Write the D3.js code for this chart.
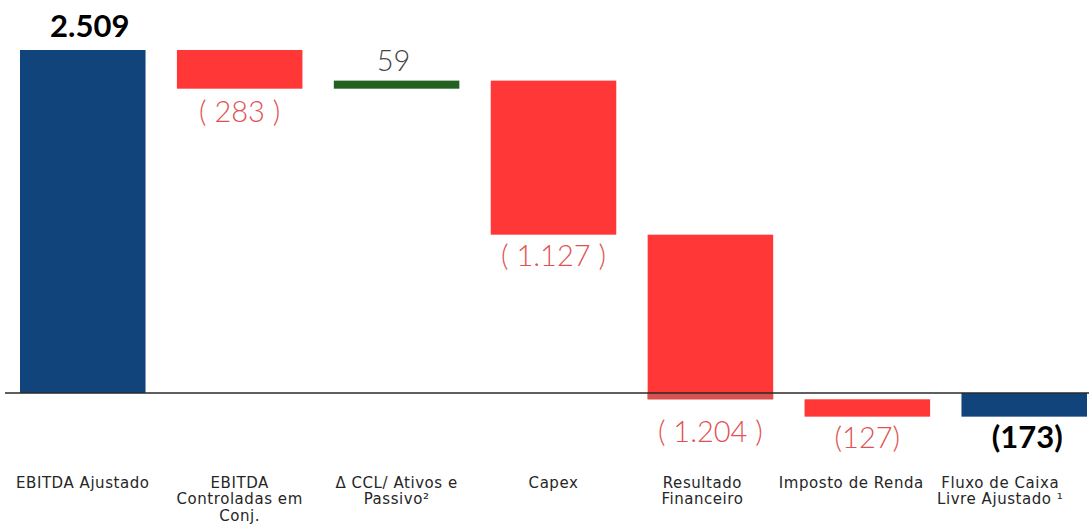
<!DOCTYPE html>
<html lang="pt-BR">
<head>
<meta charset="utf-8">
<title>Fluxo de Caixa Livre Ajustado</title>
<script src="https://cdn.jsdelivr.net/npm/d3@7"></script>
<style>
  html, body { margin: 0; padding: 0; background: #ffffff; }
  svg { display: block; font-family: "DejaVu Sans", "Open Sans", sans-serif; }
  .value { font-family: Lato, "DejaVu Sans", sans-serif; }
</style>
</head>
<body>
<svg id="chart" width="1089" height="528"></svg>
<script>
// Categories (x axis), with line breaks as shown under each bar
const categories = [
  "EBITDA Ajustado",
  "EBITDA Controladas em Conj.",
  "Δ CCL/ Ativos e Passivo²",
  "Capex",
  "Resultado Financeiro",
  "Imposto de Renda",
  "Fluxo de Caixa Livre Ajustado ¹"
];
const categoryLines = [
  ["EBITDA Ajustado"],
  ["EBITDA", "Controladas em", "Conj."],
  ["Δ CCL/ Ativos e", "Passivo²"],
  ["Capex"],
  ["Resultado", "Financeiro"],
  ["Imposto de Renda"],
  ["Fluxo de Caixa", "Livre Ajustado ¹"]
];

// Step values in R$ milhões; "total" steps are drawn from zero
const values = [2509, -283, 59, -1127, -1204, -127, -173];
const kinds  = ["total", "delta", "delta", "delta", "delta", "delta", "total"];
const valueLabels = ["2.509", "( 283 )", "59", "( 1.127 )", "( 1.204 )", "(127)", "(173)"];

// Palette
const BLUE = "#10447a", RED = "#ff3737", GREEN = "#236121";
const RED_DARK = "#d95050", LABEL_RED = "#e05252", LABEL_GREY = "#444444";

// Running totals for the waterfall
let running = 0;
const steps = values.map((v, i) => {
  let start, end;
  if (kinds[i] === "total") { start = 0; end = v; running = v; }
  else { start = running; end = running + v; running = end; }
  return { i, cat: categories[i], v, start, end, kind: kinds[i], label: valueLabels[i] };
});

const svg = d3.select("#chart");

const x = d3.scaleBand()
  .domain(categories)
  .range([20, 1087])
  .paddingInner(0.2)
  .paddingOuter(0);

const y = d3.scaleLinear()
  .domain([0, 2509])
  .range([393, 50]);

function fillFor(d) {
  if (d.kind === "total") return BLUE;
  return d.v < 0 ? RED : GREEN;
}

// Bars
const bars = svg.append("g");
bars.selectAll("rect.bar")
  .data(steps)
  .join("rect")
  .attr("class", "bar")
  .attr("x", d => x(d.cat))
  .attr("width", x.bandwidth())
  .attr("y", d => y(Math.max(d.start, d.end)))
  .attr("height", d => Math.abs(y(d.start) - y(d.end)))
  .attr("fill", fillFor);

// Portion of a falling bar that crosses below zero is drawn a shade darker
bars.selectAll("rect.below")
  .data(steps.filter(d => d.kind === "delta" && d.start > 0 && d.end < 0))
  .join("rect")
  .attr("class", "below")
  .attr("x", d => x(d.cat))
  .attr("width", x.bandwidth())
  .attr("y", y(0))
  .attr("height", d => y(d.end) - y(0))
  .attr("fill", RED_DARK);

// Zero line
svg.append("line")
  .attr("x1", 5).attr("x2", 1089)
  .attr("y1", y(0)).attr("y2", y(0))
  .attr("stroke", "#2a2a2a")
  .attr("stroke-width", 1.6);

// Value labels: above rising/positive bars, below falling ones
const belowGap = [0, 33, 0, 31, 43, 31, 31];
const labelDx  = [7, 0, -3, 0, 0, 0, 3];
svg.append("g").selectAll("text.value")
  .data(steps)
  .join("text")
  .attr("class", "value")
  .attr("text-anchor", "middle")
  .attr("x", d => x(d.cat) + x.bandwidth() / 2 + labelDx[d.i])
  .attr("y", d => {
    const top = y(Math.max(d.start, d.end));
    const bottom = y(Math.min(d.start, d.end));
    if (d.kind === "total" && d.v > 0) return top - 13;
    if (d.v > 0) return top - 10;
    return bottom + belowGap[d.i];
  })
  .attr("font-size", d => d.kind === "total" ? 31 : 29)
  .attr("font-weight", d => d.kind === "total" ? "bold" : 300)
  .attr("fill", d => d.kind === "total" ? "#000000" : (d.v < 0 ? LABEL_RED : LABEL_GREY))
  .text(d => d.label);

// Category labels
const labelShift = [0, 0, 0, 0, -8, -16, -24];
const cat = svg.append("g").selectAll("text.cat")
  .data(steps)
  .join("text")
  .attr("class", "cat")
  .attr("text-anchor", "middle")
  .attr("font-size", 15)
  .attr("letter-spacing", 0.55)
  .attr("fill", "#262626")
  .attr("transform", d => `translate(${x(d.cat) + x.bandwidth() / 2 + labelShift[d.i]},488)`);

cat.selectAll("tspan")
  .data(d => categoryLines[d.i])
  .join("tspan")
  .attr("x", 0)
  .attr("y", (t, k) => k * 16.3)
  .text(t => t);
</script>
</body>
</html>
